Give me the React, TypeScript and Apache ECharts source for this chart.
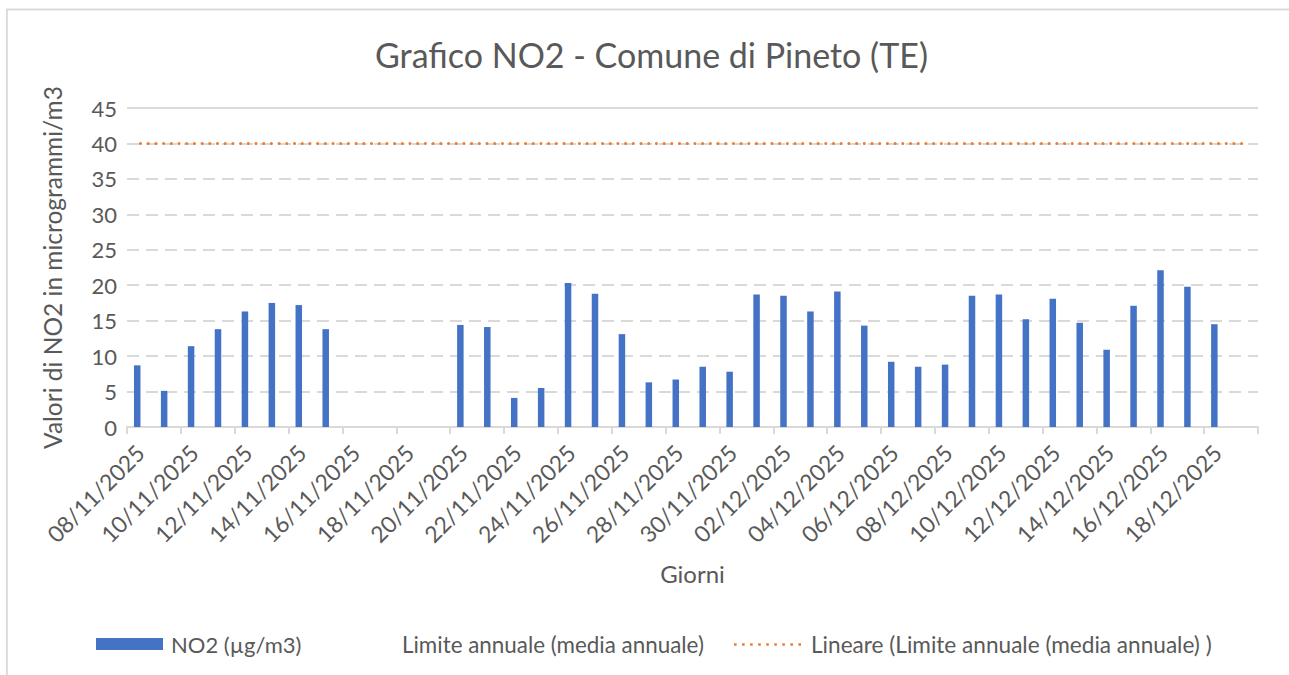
import React, { useEffect, useRef } from "react";
import * as echarts from "echarts";

const categories = [
  "08/11/2025", "09/11/2025", "10/11/2025", "11/11/2025", "12/11/2025", "13/11/2025",
  "14/11/2025", "15/11/2025", "16/11/2025", "17/11/2025", "18/11/2025", "19/11/2025",
  "20/11/2025", "21/11/2025", "22/11/2025", "23/11/2025", "24/11/2025", "25/11/2025",
  "26/11/2025", "27/11/2025", "28/11/2025", "29/11/2025", "30/11/2025", "01/12/2025",
  "02/12/2025", "03/12/2025", "04/12/2025", "05/12/2025", "06/12/2025", "07/12/2025",
  "08/12/2025", "09/12/2025", "10/12/2025", "11/12/2025", "12/12/2025", "13/12/2025",
  "14/12/2025", "15/12/2025", "16/12/2025", "17/12/2025", "18/12/2025", "19/12/2025",
];

const no2Values = [
  8.7, 5.1, 11.4, 13.8, 16.3, 17.5,
  17.2, 13.8, null, null, null, null,
  14.4, 14.1, 4.1, 5.5, 20.3, 18.8,
  13.1, 6.3, 6.7, 8.5, 7.8, 18.7,
  18.5, 16.3, 19.1, 14.3, 9.2, 8.5,
  8.8, 18.5, 18.7, 15.2, 18.1, 14.7,
  10.9, 17.1, 22.1, 19.8, 14.5, null,
];

const limitValues = [
  40, 40, 40, 40, 40, 40, 40, 40, 40, 40, 40, 40, 40, 40,
  40, 40, 40, 40, 40, 40, 40, 40, 40, 40, 40, 40, 40, 40,
  40, 40, 40, 40, 40, 40, 40, 40, 40, 40, 40, 40, 40, 40,
];

const trendValues = [
  40, 40, 40, 40, 40, 40, 40, 40, 40, 40, 40, 40, 40, 40,
  40, 40, 40, 40, 40, 40, 40, 40, 40, 40, 40, 40, 40, 40,
  40, 40, 40, 40, 40, 40, 40, 40, 40, 40, 40, 40, 40, 40,
];

const TITLE = "Grafico NO2 - Comune di Pineto (TE)";
const S1 = "NO2 (µg/m3)";
const S2 = "Limite annuale (media annuale)";
const S3 = "Lineare (Limite annuale (media annuale) )";

const FONT = "Lato, 'Noto Sans', sans-serif";
const TXT = "#595959";
const GRID = "#d9d9d9";
const ORANGE = "#ED7D31";

const DOTS_ICON =
  "path://M0,0h2.6v2.6h-2.6z M8.05,0h2.6v2.6h-2.6z M16.1,0h2.6v2.6h-2.6z M24.15,0h2.6v2.6h-2.6z M32.2,0h2.6v2.6h-2.6z M40.25,0h2.6v2.6h-2.6z M48.3,0h2.6v2.6h-2.6z M56.35,0h2.6v2.6h-2.6z M64.4,0h2.6v2.6h-2.6z";

export default function App() {
  const ref = useRef<HTMLDivElement>(null);
  useEffect(() => {
    if (!ref.current) return;
    const chart = echarts.init(ref.current, undefined, { renderer: "svg" });
    chart.setOption({
      animation: false,
      backgroundColor: "#ffffff",
      textStyle: { fontFamily: FONT },
      title: {
        text: TITLE,
        left: 375,
        top: 33,
        padding: 0,
        textStyle: { color: TXT, fontSize: 34, fontWeight: "normal", fontFamily: FONT, lineHeight: 42 },
      },
      graphic: [
        {
          type: "rect",
          silent: true,
          shape: { x: 6.9, y: 9.5, width: 1400, height: 800 },
          style: { fill: "none", stroke: GRID, lineWidth: 1.8 },
        },
      ],
      legend: [
        {
          left: 91,
          top: 628,
          itemWidth: 67,
          itemHeight: 12,
          data: [{ name: S1, icon: "rect" }],
          textStyle: { color: TXT, fontSize: 22, fontFamily: FONT, padding: [0, 0, 0, 3] },
          selectedMode: false,
        },
        {
          left: 391,
          top: 628,
          itemWidth: 1,
          itemHeight: 12,
          data: [{ name: S2, icon: "none" }],
          textStyle: { color: TXT, fontSize: 22.4, fontFamily: FONT },
          selectedMode: false,
        },
        {
          left: 729,
          top: 628,
          itemWidth: 67,
          itemHeight: 2.6,
          data: [{ name: S3, icon: DOTS_ICON, itemStyle: { color: ORANGE } }],
          textStyle: { color: TXT, fontSize: 22.6, fontFamily: FONT, padding: [0, 0, 0, 5] },
          selectedMode: false,
        },
      ],
      grid: { left: 127, right: 31, top: 108, bottom: 248, containLabel: false },
      xAxis: {
        type: "category",
        data: categories,
        boundaryGap: true,
        name: "Giorni",
        nameLocation: "middle",
        nameGap: 134,
        nameTextStyle: { color: TXT, fontSize: 24, fontFamily: FONT },
        axisLine: { show: true, lineStyle: { color: GRID, width: 2 } },
        axisTick: { show: true, interval: 1, length: 7, lineStyle: { color: GRID, width: 2 } },
        axisLabel: { interval: 1, rotate: 45, color: TXT, fontSize: 22.8, fontFamily: FONT, margin: 22 },
        splitLine: { show: false },
      },
      yAxis: {
        type: "value",
        min: 0,
        max: 45,
        interval: 5,
        name: "Valori di NO2 in microgrammi/m3",
        nameLocation: "middle",
        nameGap: 62,
        nameTextStyle: { color: TXT, fontSize: 24.5, fontFamily: FONT },
        axisLine: { show: false },
        axisTick: { show: false },
        axisLabel: { color: TXT, fontSize: 22, fontFamily: FONT, margin: 10 },
        splitLine: { show: true, lineStyle: { color: GRID, width: 2, type: [12, 7] } },
      },
      series: [
        {
          name: S1,
          type: "bar",
          data: no2Values,
          barWidth: 6.5,
          barGap: "0%",
          itemStyle: { color: "#4472C4" },
          markLine: {
            silent: true,
            symbol: "none",
            label: { show: false },
            lineStyle: { color: GRID, width: 2, type: "solid" },
            data: [{ yAxis: 45 }],
          },
        },
        {
          name: S2,
          type: "bar",
          data: limitValues,
          barWidth: 6.5,
          silent: true,
          itemStyle: { color: "rgba(0,0,0,0)" },
        },
        {
          name: S3,
          type: "line",
          data: trendValues,
          symbol: "none",
          showSymbol: false,
          silent: true,
          lineStyle: { color: ORANGE, width: 3, type: [0.1, 7.6], cap: "round" },
          itemStyle: { color: ORANGE },
          z: 5,
        },
      ],
    });
    return () => chart.dispose();
  }, []);
  return (
    <div
      ref={ref}
      style={{ position: "absolute", left: 0, top: 0, width: 1289, height: 675 }}
    />
  );
}
